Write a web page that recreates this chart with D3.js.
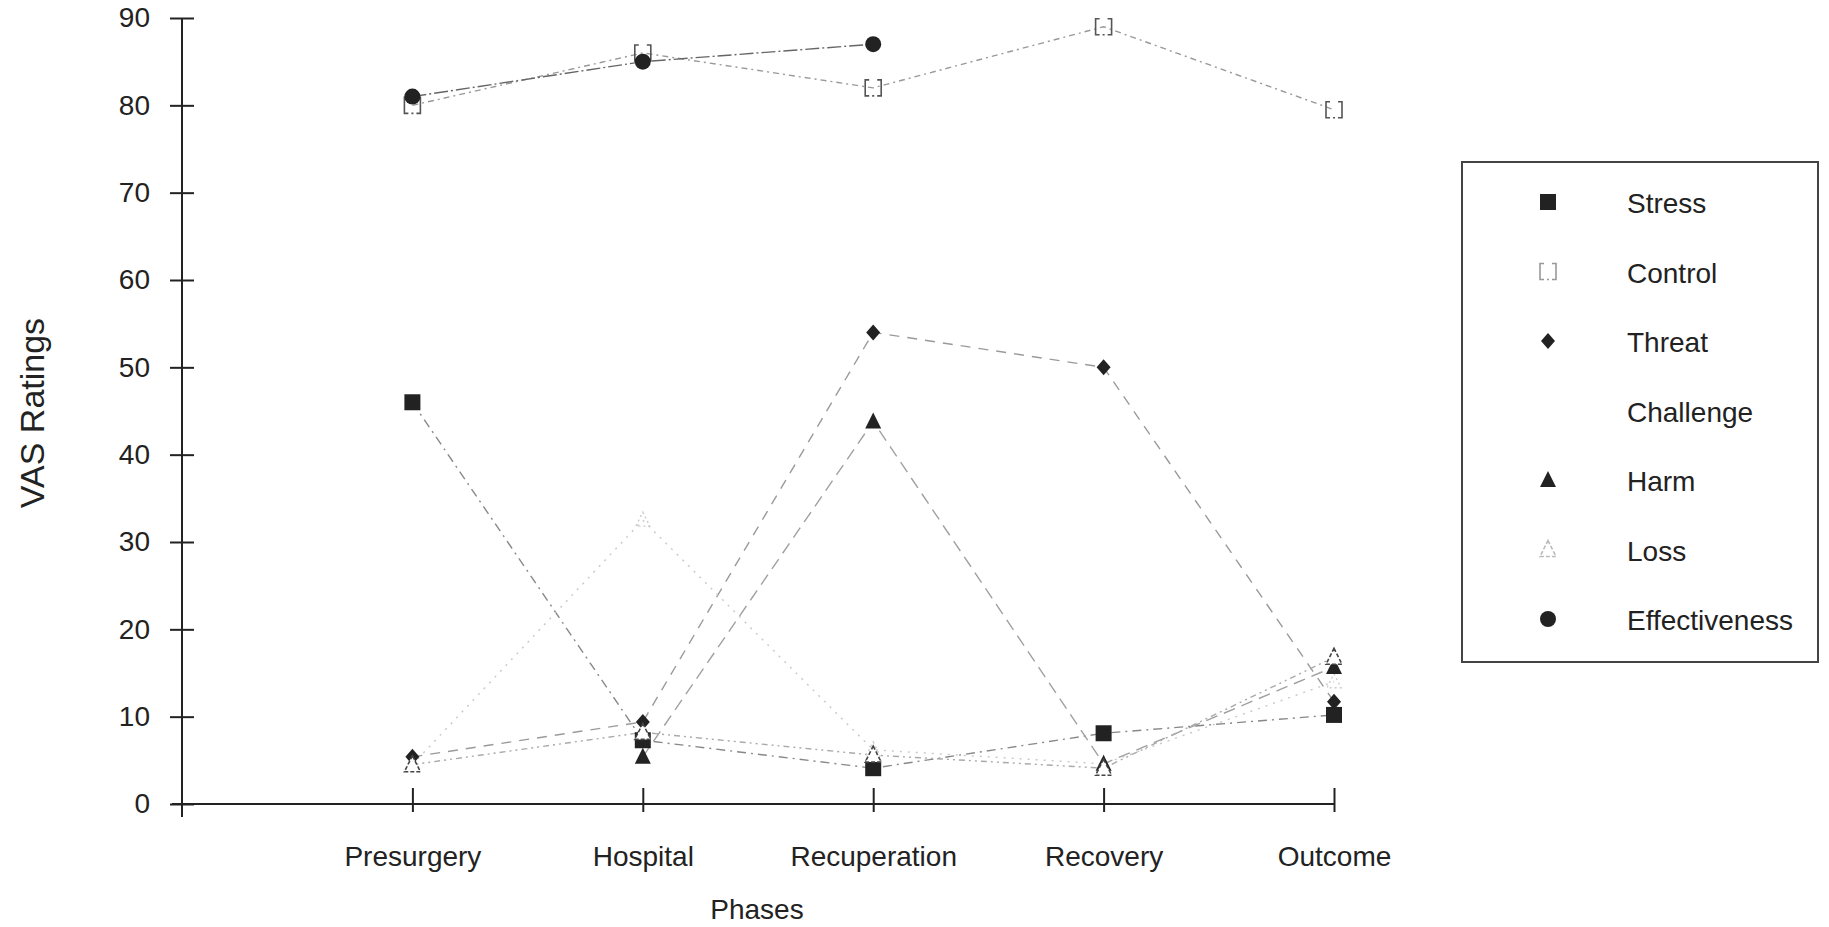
<!DOCTYPE html>
<html lang="en">

<head>
  <meta charset="UTF-8">
  <title>VAS Ratings by Phase</title>
  <script src="https://d3js.org/d3.v7.min.js"></script>
  <style>
    body {
      margin: 0;
      background: #fff;
    }

    text {
      font-family: "Liberation Sans", Arial, sans-serif;
      fill: #222;
    }
  </style>
</head>

<body>
  <div id="my_dataviz"></div>
  <script>

    // phases on the x axis and the ratings
    const phases = ["Presurgery", "Hospital", "Recuperation", "Recovery", "Outcome"];
    const yTicks = [0, 10, 20, 30, 40, 50, 60, 70, 80, 90];

    const stress = [46, 7.3, 4.1, 8.1, 10.2];
    const control = [80, 86, 82, 89, 79.5];
    const threat = [5.4, 9.4, 54, 50, 11.7];
    const challenge = [4.5, 32.5, 6.2, 4.6, 14];
    const harm = [null, 5.4, 43.8, 4.6, 15.7];
    const loss = [4.5, 8.2, 5.6, 4.1, 16.8];
    const effectiveness = [81, 85, 87, null, null];

    const seriesNames = ["Stress", "Control", "Threat", "Challenge", "Harm", "Loss", "Effectiveness"];
    const seriesValues = [stress, control, threat, challenge, harm, loss, effectiveness];

    // how each series is drawn
    const styles = {
      Stress: { marker: "square", stroke: "#888", dash: "9,5,2,5" },
      Control: { marker: "bracket", stroke: "#999", dash: "6,4,2,4" },
      Threat: { marker: "diamond", stroke: "#9a9a9a", dash: "10,8" },
      Challenge: { marker: "faint", stroke: "#c8c8c8", dash: "2,6" },
      Harm: { marker: "triangle", stroke: "#a0a0a0", dash: "12,7" },
      Loss: { marker: "openTriangle", stroke: "#aaa", dash: "6,4,2,4,2,4" },
      Effectiveness: { marker: "circle", stroke: "#666", dash: "14,3,2,3" }
    };

    const width = 1829, height = 927;

    const svg = d3.select("#my_dataviz")
      .append("svg")
      .attr("width", width)
      .attr("height", height);

    // phase i sits at i + 1, the axis origin is at 0
    const x = d3.scaleLinear().domain([0, 5]).range([182, 1334]);
    const y = d3.scaleLinear().domain([0, 90]).range([804, 18]);

    // Y axis
    const yAxis = svg.append("g")
      .attr("transform", "translate(182,0)")
      .call(d3.axisLeft(y).tickValues(yTicks).tickSize(12).tickPadding(20));
    yAxis.select(".domain").remove();
    yAxis.selectAll(".tick line").attr("x1", 12).attr("stroke", "#222").attr("stroke-width", 2);
    yAxis.selectAll(".tick text")
      .attr("x", -32)
      .style("font-size", "28px")
      .attr("fill", "#222");
    svg.append("line")
      .attr("x1", 182).attr("x2", 182)
      .attr("y1", y(90)).attr("y2", 817)
      .attr("stroke", "#222").attr("stroke-width", 2);

    // X axis
    const xAxis = svg.append("g")
      .attr("transform", `translate(0,${y(0)})`)
      .call(d3.axisBottom(x)
        .tickValues(d3.range(1, phases.length + 1))
        .tickFormat(i => phases[i - 1])
        .tickSize(8));
    xAxis.select(".domain").remove();
    xAxis.selectAll(".tick line").attr("y1", -16).attr("stroke", "#222").attr("stroke-width", 2);
    xAxis.selectAll(".tick text")
      .attr("y", 62)
      .attr("dy", 0)
      .style("font-size", "28px")
      .attr("fill", "#222");
    svg.append("line")
      .attr("x1", 172).attr("x2", x(5))
      .attr("y1", y(0)).attr("y2", y(0))
      .attr("stroke", "#222").attr("stroke-width", 2);

    // axis titles
    svg.append("text")
      .attr("x", 757)
      .attr("y", 919)
      .attr("text-anchor", "middle")
      .style("font-size", "28px")
      .text("Phases");

    svg.append("text")
      .attr("transform", "translate(44,413) rotate(-90)")
      .attr("text-anchor", "middle")
      .style("font-size", "34px")
      .text("VAS Ratings");

    // marker shapes
    function drawMarker(g, type, color) {
      if (type === "square") {
        g.append("rect").attr("x", -8).attr("y", -8).attr("width", 16).attr("height", 16).attr("fill", color || "#222");
      } else if (type === "bracket") {
        g.append("path")
          .attr("d", "M-4,-8H-8V8H-4M4,-8H8V8H4M-1,8H1")
          .attr("fill", "none").attr("stroke", color || "#555").attr("stroke-width", 1.6);
      } else if (type === "diamond") {
        g.append("path").attr("d", "M0,-8L7,0L0,8L-7,0Z").attr("fill", color || "#222");
      } else if (type === "triangle") {
        g.append("path").attr("d", "M0,-9L8,7L-8,7Z").attr("fill", color || "#222");
      } else if (type === "openTriangle") {
        g.append("path").attr("d", "M0,-9L8,7L-8,7Z")
          .attr("fill", "#fff").attr("stroke", color || "#444")
          .attr("stroke-width", 1.6).attr("stroke-dasharray", "4,2");
      } else if (type === "circle") {
        g.append("circle").attr("r", 8).attr("fill", color || "#222");
      } else if (type === "faint") {
        g.append("path").attr("d", "M0,-8L7,6L-7,6Z")
          .attr("fill", "none").attr("stroke", color || "#ccc")
          .attr("stroke-width", 1.4).attr("stroke-dasharray", "2,3");
      }
    }

    const line = d3.line()
      .defined(d => d.v != null)
      .x(d => x(d.i + 1))
      .y(d => y(d.v));

    const data = seriesNames.map((name, k) => ({
      name: name,
      points: seriesValues[k].map((v, i) => ({ i: i, v: v }))
    }));

    // Add the lines
    svg.selectAll("path.series")
      .data(data)
      .join("path")
      .attr("class", "series")
      .attr("fill", "none")
      .attr("stroke", d => styles[d.name].stroke)
      .attr("stroke-width", 1.4)
      .attr("stroke-dasharray", d => styles[d.name].dash)
      .attr("d", d => line(d.points));

    // Add the markers
    data.forEach(s => {
      s.points.filter(p => p.v != null).forEach(p => {
        const g = svg.append("g").attr("transform", `translate(${x(p.i + 1)},${y(p.v)})`);
        drawMarker(g, styles[s.name].marker);
      });
    });

    // Legend
    const legend = svg.append("g");
    legend.append("rect")
      .attr("x", 1462).attr("y", 162)
      .attr("width", 356).attr("height", 500)
      .attr("fill", "#fff")
      .attr("stroke", "#444")
      .attr("stroke-width", 2);

    const legendColors = { Control: "#999", Challenge: "#fff", Loss: "#bbb" };

    seriesNames.forEach((name, k) => {
      const cy = 202 + k * 69.5;
      const g = legend.append("g").attr("transform", `translate(1548,${cy})`);
      drawMarker(g, styles[name].marker, legendColors[name]);
      legend.append("text")
        .attr("x", 1627)
        .attr("y", cy + 11)
        .style("font-size", "28px")
        .text(name);
    });

  </script>
</body>

</html>
